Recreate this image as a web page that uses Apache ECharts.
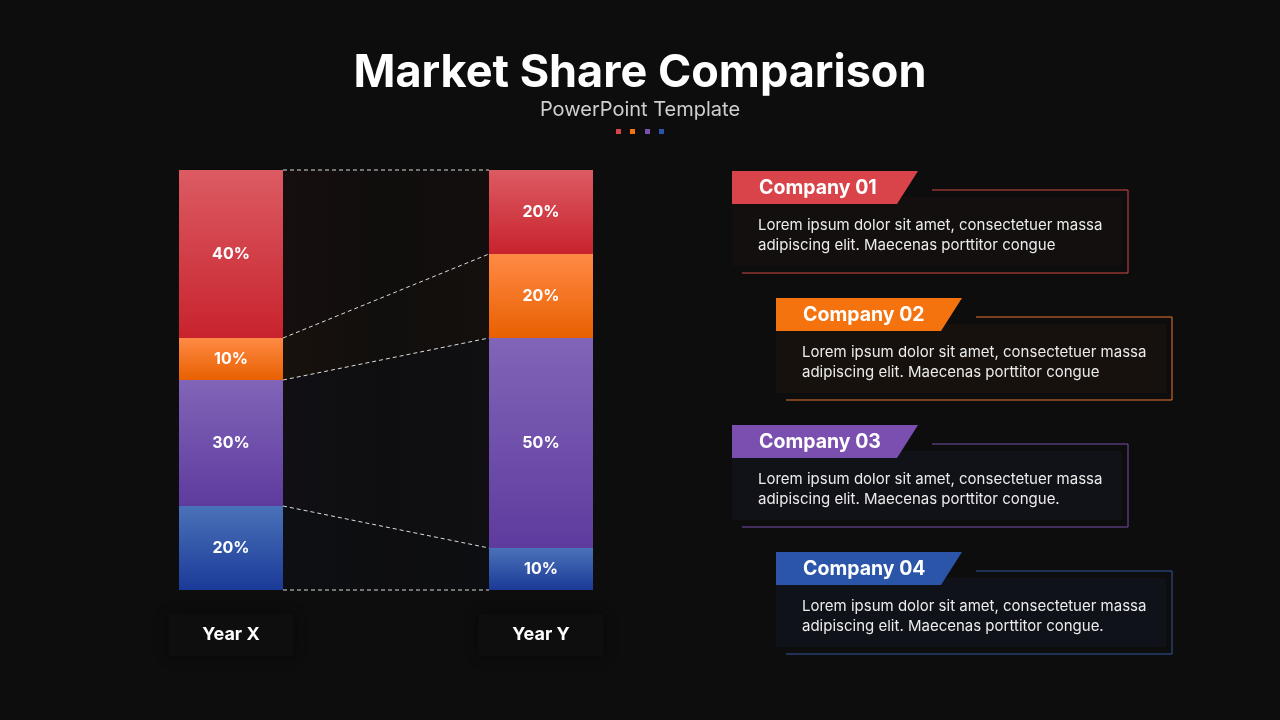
<!DOCTYPE html>
<html>
<head>
<meta charset="utf-8">
<title>Market Share Comparison</title>
<script src="https://cdn.jsdelivr.net/npm/echarts@6/dist/echarts.min.js"></script>
<style>
  html, body { margin: 0; padding: 0; background: #0d0d0d; }
  #main { width: 1280px; height: 720px; }
</style>
</head>
<body>
<div id="main"></div>
<script>
// data
var years = ['Year X', 'Year Y'];
var seriesNames = ['Company 04', 'Company 03', 'Company 02', 'Company 01']; // bottom to top
var company04 = [20, 10];
var company03 = [30, 50];
var company02 = [10, 20];
var company01 = [40, 20];
var companyTexts = [
    'Lorem ipsum dolor sit amet, consectetuer massa\nadipiscing elit. Maecenas porttitor congue',
    'Lorem ipsum dolor sit amet, consectetuer massa\nadipiscing elit. Maecenas porttitor congue',
    'Lorem ipsum dolor sit amet, consectetuer massa\nadipiscing elit. Maecenas porttitor congue.',
    'Lorem ipsum dolor sit amet, consectetuer massa\nadipiscing elit. Maecenas porttitor congue.'
];

var FONT = 'Inter, "Noto Sans", sans-serif';
var BAR_W = 104;

// colours bottom to top: blue, purple, orange, red
var grads = [
    ['#4a72b8', '#1b3a98'],
    ['#8165b8', '#5e3b9e'],
    ['#ff8a45', '#e86000'],
    ['#dc5b63', '#c8232d']
];
var tabColors = ['#d9434a', '#f5730f', '#7b4fb0', '#2a55a8'];   // company 01..04
var lineColors = ['#d24a42', '#ea7630', '#7650ac', '#3358a0'];
var fillColors = ['#140f0f', '#16110d', '#111118', '#0f1219'];

var stack = [company04, company03, company02, company01];

// cumulative boundaries for the connector lines
var bounds = [[0, 0, 0]];
var cx = 0, cy = 0;
for (var i = 0; i < stack.length; i++) {
    cx += stack[i][0];
    cy += stack[i][1];
    bounds.push([0, cx, cy]);
}
// bands between the bars
var bands = [];
for (var i = 0; i < bounds.length - 1; i++) {
    bands.push([0, bounds[i][1], bounds[i + 1][1], bounds[i][2], bounds[i + 1][2], i]);
}

function grad(c) {
    return new echarts.graphic.LinearGradient(0, 0, 0, 1, [
        { offset: 0, color: c[0] },
        { offset: 1, color: c[1] }
    ]);
}

var series = [];
for (var i = 0; i < stack.length; i++) {
    series.push({
        name: seriesNames[i],
        type: 'bar',
        stack: 'share',
        barWidth: BAR_W,
        z: 3,
        data: stack[i],
        itemStyle: { color: grad(grads[i]) },
        label: {
            show: true,
            position: 'inside',
            formatter: '{c}%',
            color: '#ffffff',
            fontFamily: FONT,
            fontWeight: 'bold',
            fontSize: 16
        }
    });
}

// faint band fill between the bars
series.push({
    type: 'custom',
    z: 1,
    silent: true,
    data: bands,
    renderItem: function (params, api) {
        var x0 = api.coord([0, api.value(1)]);
        var x1 = api.coord([0, api.value(2)]);
        var y0 = api.coord([1, api.value(3)]);
        var y1 = api.coord([1, api.value(4)]);
        var lx = x0[0] + BAR_W / 2, rx = y0[0] - BAR_W / 2;
        var c = grads[api.value(5)][1];
        return {
            type: 'polygon',
            shape: { points: [[lx, x0[1]], [lx, x1[1]], [rx, y1[1]], [rx, y0[1]]] },
            style: {
                fill: new echarts.graphic.LinearGradient(0, 0, 1, 0, [
                    { offset: 0, color: echarts.color.modifyAlpha(c, 0.05) },
                    { offset: 0.5, color: echarts.color.modifyAlpha(c, 0.015) },
                    { offset: 1, color: echarts.color.modifyAlpha(c, 0.035) }
                ])
            }
        };
    }
});

// dashed connectors
series.push({
    type: 'custom',
    z: 4,
    silent: true,
    data: bounds,
    renderItem: function (params, api) {
        var a = api.coord([0, api.value(1)]);
        var b = api.coord([1, api.value(2)]);
        return {
            type: 'line',
            shape: { x1: a[0] + BAR_W / 2, y1: a[1], x2: b[0] - BAR_W / 2, y2: b[1] },
            style: { stroke: 'rgba(255,255,255,0.85)', lineWidth: 1, lineDash: [4, 3] }
        };
    }
});

// right side company boxes
var graphics = [];
var offs = [[0, 0], [44, 127], [0, 254], [44, 381]];
for (var k = 0; k < 4; k++) {
    var dx = offs[k][0], dy = offs[k][1];
    graphics.push({
        type: 'rect',
        shape: { x: 732 + dx, y: 197 + dy, width: 390, height: 69 },
        style: { fill: fillColors[k] }
    });
    graphics.push({
        type: 'polyline',
        shape: { points: [[932 + dx, 190 + dy], [1128 + dx, 190 + dy], [1128 + dx, 273 + dy], [742 + dx, 273 + dy]] },
        style: { stroke: lineColors[k], lineWidth: 1, fill: null }
    });
    graphics.push({
        type: 'polygon',
        shape: { points: [[732 + dx, 171 + dy], [918 + dx, 171 + dy], [897 + dx, 204 + dy], [732 + dx, 204 + dy]] },
        style: { fill: tabColors[k] }
    });
    graphics.push({
        type: 'text',
        x: 759 + dx, y: 188 + dy,
        style: {
            text: seriesNames[3 - k],
            fill: '#ffffff', font: 'bold 19.5px ' + FONT,
            verticalAlign: 'middle'
        }
    });
    graphics.push({
        type: 'text',
        x: 758 + dx, y: 215 + dy,
        style: {
            text: companyTexts[k],
            fill: '#ececec', font: '15px ' + FONT,
            lineHeight: 20, verticalAlign: 'top'
        }
    });
}
// small colour dots under the subtitle
var dotX = [616, 630, 645, 659];
var dotCols = ['#d9434a', '#f5730f', '#7b4fb0', '#2a55a8'];
for (var d = 0; d < 4; d++) {
    graphics.push({
        type: 'rect',
        shape: { x: dotX[d], y: 129, width: 5, height: 5 },
        style: { fill: dotCols[d] }
    });
}

var myChart = echarts.init(document.getElementById('main'));
var option = {
    backgroundColor: '#0d0d0d',
    animation: false,
    title: {
        text: 'Market Share Comparison',
        subtext: 'PowerPoint Template',
        left: 'center',
        top: 46,
        itemGap: 4,
        textStyle: { color: '#ffffff', fontFamily: FONT, fontWeight: 'bold', fontSize: 45 },
        subtextStyle: { color: '#cfcfcf', fontFamily: FONT, fontSize: 20 }
    },
    grid: { left: 76, width: 620, top: 170, height: 420 },
    xAxis: {
        type: 'category',
        data: years,
        axisLine: { show: false },
        axisTick: { show: false },
        axisLabel: {
            margin: 24,
            color: '#ffffff',
            fontFamily: FONT,
            fontWeight: 'bold',
            fontSize: 18,
            backgroundColor: '#0e0e0e',
            padding: [12, 34],
            shadowColor: 'rgba(0,0,0,0.5)',
            shadowBlur: 10
        }
    },
    yAxis: {
        type: 'value',
        min: 0,
        max: 100,
        show: false,
        splitLine: { show: false }
    },
    graphic: graphics,
    series: series
};
myChart.setOption(option);
</script>
</body>
</html>
